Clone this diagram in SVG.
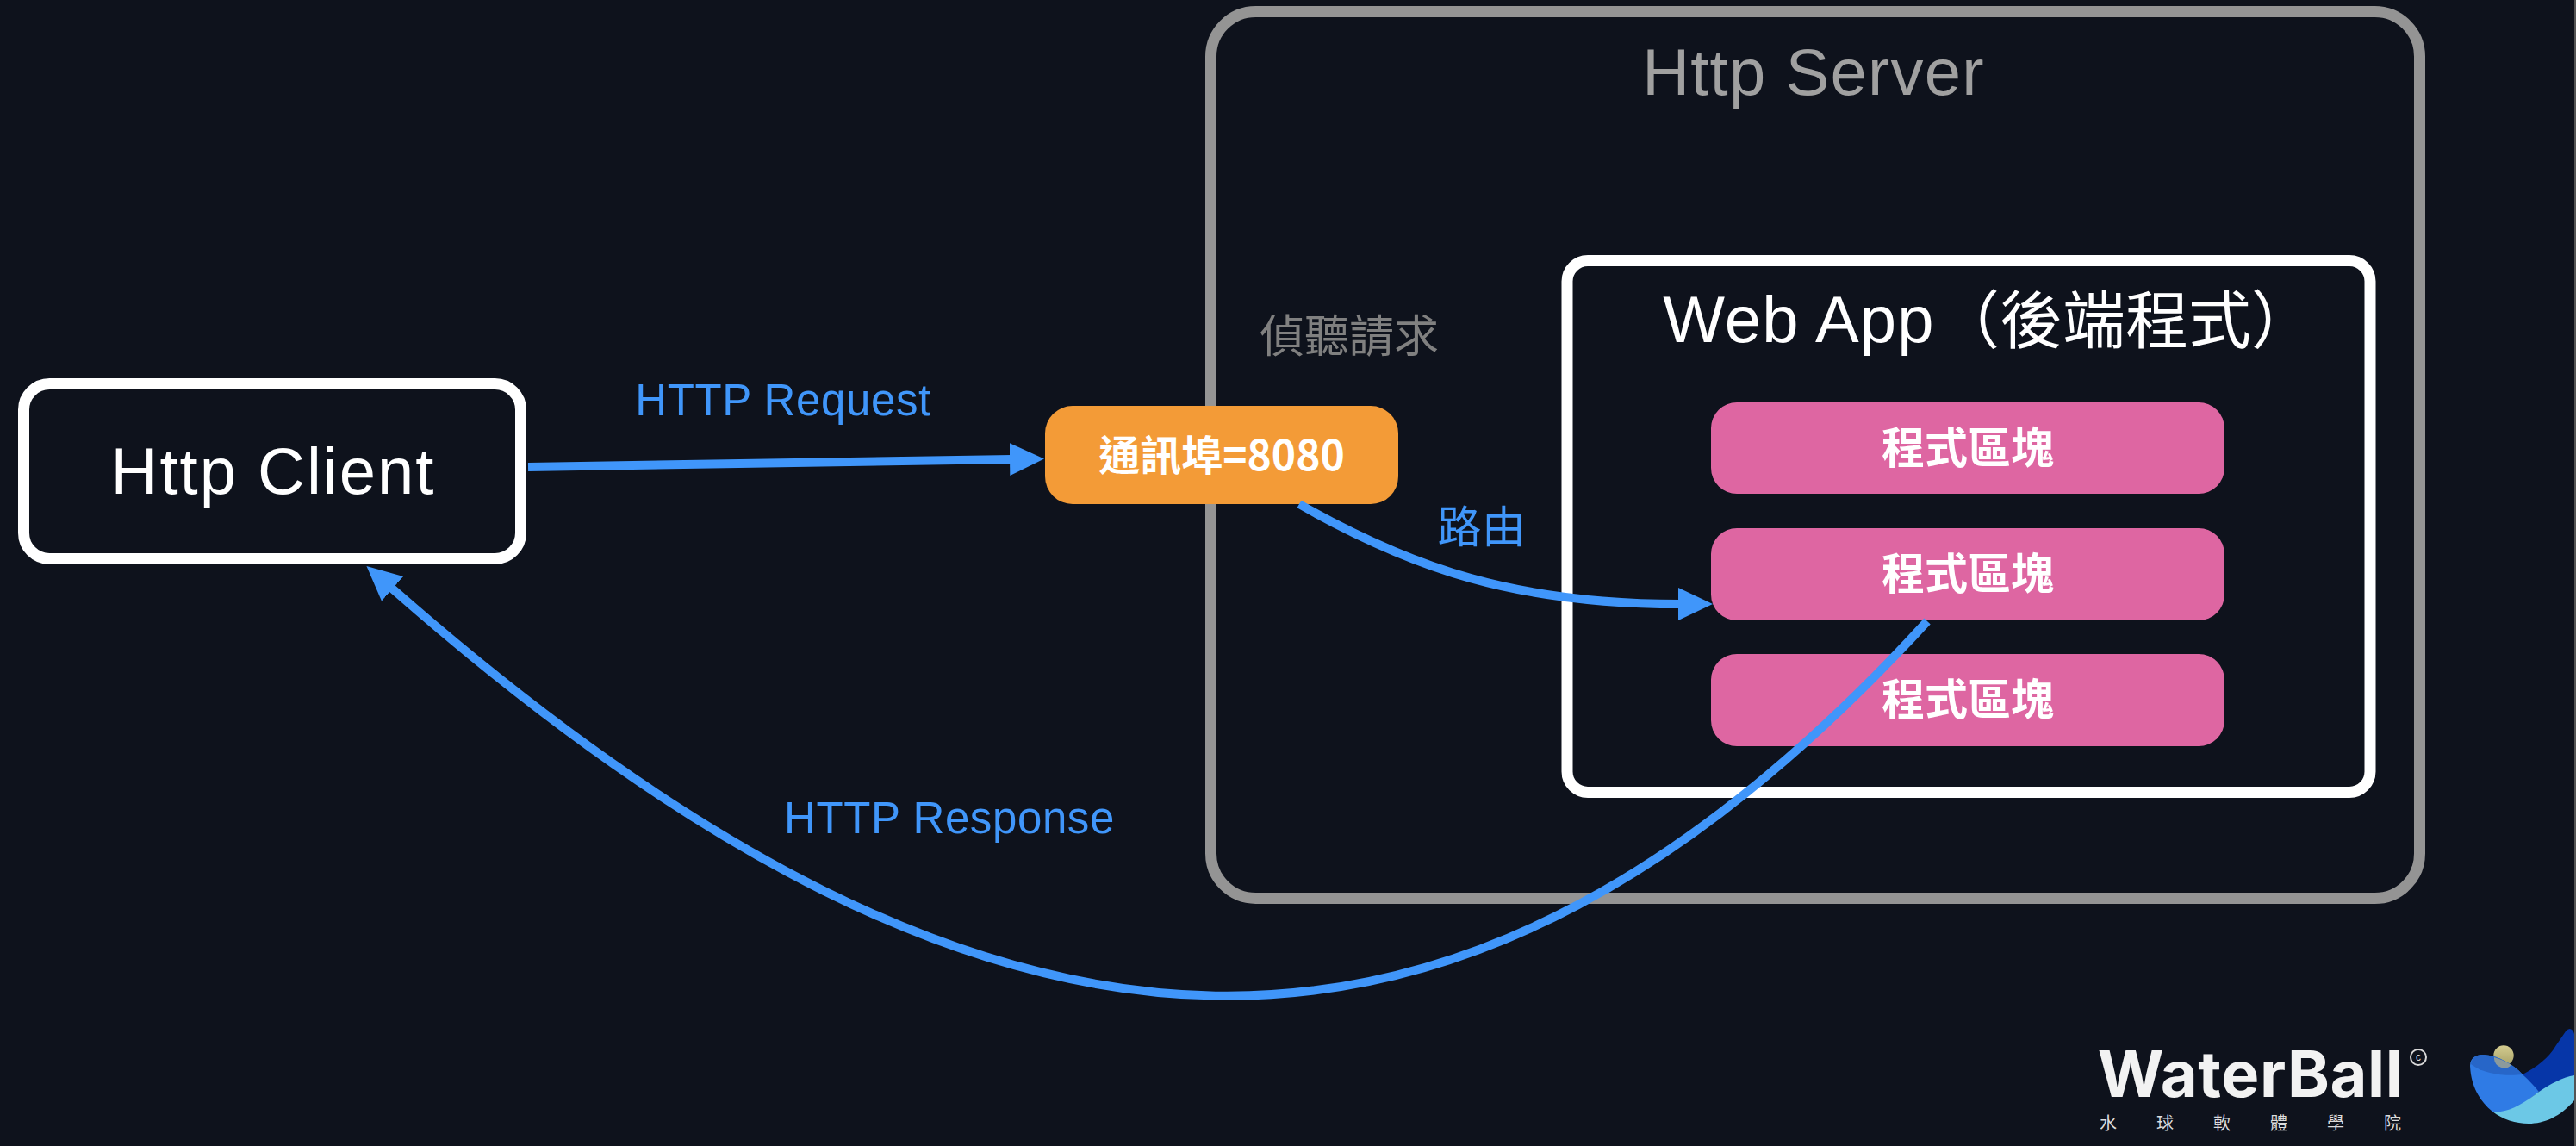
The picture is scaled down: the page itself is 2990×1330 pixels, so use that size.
<svg xmlns="http://www.w3.org/2000/svg" width="2990" height="1330" viewBox="0 0 2990 1330">
<style>
text{font-family:"Liberation Sans","Noto Sans CJK TC",sans-serif;text-anchor:middle}
.box{fill:none;stroke:#fff;stroke-width:13}
.pink{fill:#de66a2}
.blk{font-size:50px;font-weight:700;fill:#fff}
.lbl{font-size:51px;fill:#4096fa;letter-spacing:.6px}
.big{font-size:76px;letter-spacing:1.200px}
.conn{fill:none;stroke:#4096fa;stroke-width:10}
.cjk{font-family:"Noto Sans CJK TC",sans-serif}
</style>
<defs>
<marker id="arrow" markerUnits="userSpaceOnUse" markerWidth="42" markerHeight="40" refX="2" refY="20" orient="auto">
<path d="M0 1L40 20L0 39z" fill="#4096fa"/>
</marker>
<linearGradient id="sun" x1="0" y1="0" x2="0" y2="1">
<stop offset="0" stop-color="#d4cc90"/>
<stop offset="1" stop-color="#a8a268"/>
</linearGradient>
</defs>
<rect width="2990" height="1330" fill="#0e121c"/>
<rect x="2988" width="2" height="1330" fill="#555"/>
<g id="http-server">
<rect x="1405.500" y="13.500" width="1403" height="1029" rx="52" fill="none" stroke="#949494" stroke-width="13"/>
<text x="2105" y="110" class="big" fill="#a0a0a0">Http Server</text>
<text x="1566" y="409" class="cjk" font-size="52" fill="#808080">偵聽請求</text>
</g>
<g id="http-client">
<rect class="box" x="27.500" y="445.500" width="577" height="203" rx="30"/>
<text x="317" y="573" class="big" fill="#fff" style="letter-spacing:2px">Http Client</text>
</g>
<g id="web-app">
<rect class="box" x="1819" y="302.500" width="932" height="617" rx="24"/>
<text x="2088" y="397" class="big" fill="#fff">Web App</text>
<text x="2467" y="398" class="cjk" font-size="73" fill="#fff">（後端程式）</text>
</g>
<g id="block-1">
<rect class="pink" x="1986" y="467" width="596" height="106" rx="30"/>
<text class="blk cjk" x="2284" y="538">程式區塊</text>
</g>
<g id="block-2">
<rect class="pink" x="1986" y="613" width="596" height="107" rx="30"/>
<text class="blk cjk" x="2284" y="684">程式區塊</text>
</g>
<g id="block-3">
<rect class="pink" x="1986" y="759" width="596" height="107" rx="30"/>
<text class="blk cjk" x="2284" y="830">程式區塊</text>
</g>
<g id="port">
<rect x="1213" y="471" width="410" height="114" rx="32" fill="#f39b37"/>
<text x="1418" y="546" class="blk cjk" style="font-size:48px">通訊埠=8080</text>
</g>
<g id="connectors">
<path class="conn" marker-end="url(#arrow)" d="M613 542L1174 533"/>
<path class="conn" marker-end="url(#arrow)" d="M1508 585C1640 660 1760 701 1950 701"/>
<path class="conn" marker-end="url(#arrow)" d="M2237 721C1700 1307 1165 1307 454 682"/>
<text x="909" y="482" class="lbl">HTTP Request</text>
<text x="1102" y="967" class="lbl">HTTP Response</text>
<text x="1720" y="630" class="lbl cjk">路由</text>
</g>
<g id="logo">
<text x="2612" y="1273" font-size="74" font-weight="700" fill="#f2f2f2" style="font-family:Inter,'Liberation Sans',sans-serif;letter-spacing:.6px">WaterBall</text>
<circle cx="2807" cy="1227" r="9" fill="none" stroke="#d8d8d8" stroke-width="2"/>
<text x="2807" y="1231" font-size="12" fill="#d8d8d8">c</text>
<text x="2635" y="1311" class="cjk" font-size="20" fill="#dcdcdc" style="letter-spacing:46px">水球軟體學院</text>
<circle cx="2906" cy="1225" r="11.700" fill="url(#sun)"/>
<path d="M2928 1247C2945 1238 2958 1228 2967 1213L2978 1197Q2983 1191 2987 1197L2988 1200V1260L2947 1267Z" fill="#0636a8"/>
<path d="M2867 1237C2867 1227 2875 1224 2882 1224C2900 1225 2917 1235 2928 1247C2936 1254 2942 1261 2947 1267L2915 1292L2893 1290C2876 1276 2868 1258 2867 1237Z" fill="#2f7be5"/>
<path d="M2868 1235C2869 1227 2875 1224 2882 1224C2900 1225 2917 1235 2928 1247C2912 1249 2884 1248 2868 1235Z" fill="#2766c8"/>
<path d="M2895 1227C2902 1229 2909 1232 2915 1236A11.700 11.700 0 0 1 2895 1229Z" fill="#8b9a9c"/>
<path d="M2893 1290C2908 1292 2925 1284 2947 1267C2960 1258 2975 1250 2988 1248V1277C2972 1296 2953 1304 2935 1304C2920 1304 2905 1299 2893 1290Z" fill="#6cc8e6"/>
</g>
</svg>
